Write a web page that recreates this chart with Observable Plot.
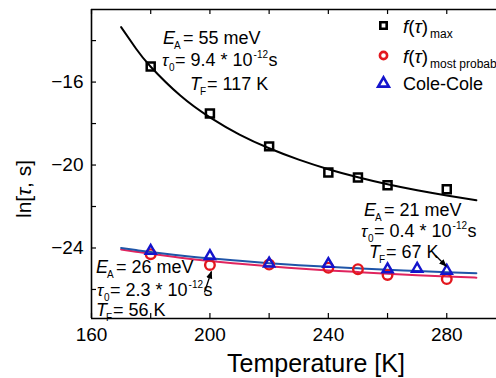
<!DOCTYPE html>
<html><head><meta charset="utf-8">
<script src="https://cdn.jsdelivr.net/npm/d3@7"></script>
<script src="https://cdn.jsdelivr.net/npm/@observablehq/plot@0.6"></script>
<style>
html,body{margin:0;padding:0;background:#fff}
#chart svg{display:block;font-family:Arial,"Liberation Sans",sans-serif}
</style></head><body><div id="chart"></div>
<script>
// ---- data ----
const tempsMax = [180, 200, 220, 240, 250, 260, 280];
const tauMax = [-15.25, -17.51, -19.10, -20.36, -20.60, -20.98, -21.17];
const tempsMP = [180, 200, 220, 240, 250, 260, 280];
const tauMostProbable = [-24.30, -24.82, -24.80, -24.95, -25.02, -25.30, -25.50];
const tempsCC = [180, 200, 220, 240, 260, 270, 280];
const tauColeCole = [-24.14, -24.39, -24.75, -24.77, -25.03, -25.00, -25.10];
const fitT = [170, 175, 180, 190, 200, 210, 220, 230, 240, 250, 260, 270, 280, 290];
const fitMax = [-13.35, -14.38, -15.26, -16.65, -17.70, -18.53, -19.19, -19.74, -20.20, -20.59, -20.93, -21.22, -21.47, -21.70];
const fitMP = [-24.07, -24.18, -24.28, -24.47, -24.63, -24.76, -24.88, -24.99, -25.08, -25.16, -25.24, -25.31, -25.37, -25.43];
const fitCC = [-24.00, -24.10, -24.19, -24.36, -24.50, -24.62, -24.73, -24.83, -24.91, -24.98, -25.05, -25.11, -25.17, -25.22];
const xTickLabels = [160, 200, 240, 280];
const xTickMarks = [160, 180, 200, 220, 240, 260, 280];
const yTickLabels = [-24, -20, -16];
const yTickMarks = [-26, -24, -22, -20, -18, -16, -14];
const legendLabels = ["max", "most probable", "Cole-Cole"];

const rowsMax = tempsMax.map((t, i) => ({t, v: tauMax[i]}));
const rowsMP = tempsMP.map((t, i) => ({t, v: tauMostProbable[i]}));
const rowsCC = tempsCC.map((t, i) => ({t, v: tauColeCole[i]}));
const rowsFit = fitT.map((t, i) => ({t, max: fitMax[i], mp: fitMP[i], cc: fitCC[i]}));

const W = 496, H = 378, mL = 91, mR = 0, mT = 9, mB = 60;
const frameW = W - mL - mR, frameH = H - mT - mB;
const RED = "#e3171e", BLUE = "#1414cc", REDLINE = "#e0245e", BLUELINE = "#1f55a8";

const plot = Plot.plot({
  width: W, height: H,
  marginLeft: mL, marginRight: mR, marginTop: mT, marginBottom: mB,
  x: {domain: [160, 296.8]},
  y: {domain: [-27.4, -12.5]},
  style: {background: "#fff", color: "#000", fontFamily: "Arial, 'Liberation Sans', sans-serif"},
  marks: [
    Plot.tickX(xTickMarks, {x: d => d, insetTop: frameH - 5, stroke: "#000", strokeWidth: 1.2}),
    Plot.tickX(xTickMarks, {x: d => d, insetBottom: frameH - 5, stroke: "#000", strokeWidth: 1.2}),
    Plot.tickY(yTickMarks, {y: d => d, insetRight: frameW - 5, stroke: "#000", strokeWidth: 1.2}),
    Plot.axisX(xTickLabels, {anchor: "bottom", tickSize: 0, tickPadding: 9, fontSize: 19, label: null}),
    Plot.axisY(yTickLabels, {anchor: "left", tickSize: 0, tickPadding: 8, fontSize: 19, label: null}),
    Plot.ruleX([160], {stroke: "#000", strokeWidth: 1.6}),
    Plot.ruleY([-27.4], {stroke: "#000", strokeWidth: 1.6}),
    Plot.ruleY([-12.5], {stroke: "#000", strokeWidth: 1.4}),
    Plot.line(rowsFit, {x: "t", y: "max", stroke: "#000", strokeWidth: 2, curve: "natural"}),
    Plot.line(rowsFit, {x: "t", y: "mp", stroke: REDLINE, strokeWidth: 2, curve: "natural"}),
    Plot.line(rowsFit, {x: "t", y: "cc", stroke: BLUELINE, strokeWidth: 2, curve: "natural"}),
    Plot.dot(rowsMax, {x: "t", y: "v", symbol: "square", r: 4.5, stroke: "#000", strokeWidth: 2.5, fill: "none"}),
    Plot.dot(rowsMP, {x: "t", y: "v", symbol: "circle", r: 4.8, stroke: RED, strokeWidth: 2.4, fill: "none"}),
    Plot.dot(rowsCC, {x: "t", y: "v", symbol: "triangle", r: 3.8, stroke: BLUE, strokeWidth: 2.4, fill: "none"}),
    Plot.dot([legendLabels[0]], {frameAnchor: "top-left", dx: 383 - mL, dy: 25 - mT, symbol: "square", r: 3.6, stroke: "#000", strokeWidth: 2.6, fill: "none"}),
    Plot.dot([legendLabels[1]], {frameAnchor: "top-left", dx: 383 - mL, dy: 55 - mT, symbol: "circle", r: 3.6, stroke: RED, strokeWidth: 2.6, fill: "none"}),
    Plot.dot([legendLabels[2]], {frameAnchor: "top-left", dx: 383 - mL, dy: 83 - mT, symbol: "triangle", r: 4.0, stroke: BLUE, strokeWidth: 2.6, fill: "none"})
  ]
});

const svg = d3.select(plot);
const FF = "Arial, 'Liberation Sans', sans-serif";
function seg(x, y, text, size, italic) {
  svg.append("text").attr("x", x).attr("y", y).attr("font-size", size)
    .attr("font-family", FF).attr("fill", "#000").attr("text-anchor", "start")
    .attr("font-style", italic ? "italic" : "normal").text(text);
}
svg.append("text").attr("x", 316).attr("y", 372).attr("text-anchor", "middle")
  .attr("font-size", 25).attr("font-family", FF).attr("fill", "#000").text("Temperature [K]");
svg.append("text").attr("transform", "translate(31,189) rotate(-90)").attr("text-anchor", "middle")
  .attr("font-size", 21).attr("font-family", FF).attr("fill", "#000")
  .html('ln[<tspan font-style="italic">τ</tspan>, s]');

function fTau(x, y) {
  svg.append("text").attr("x", x).attr("y", y).attr("font-size", 19).attr("font-family", FF)
    .attr("fill", "#000").attr("text-anchor", "start")
    .html('<tspan font-style="italic">f</tspan>(<tspan font-style="italic">τ</tspan>)');
}
fTau(403, 33); seg(430, 38, legendLabels[0], 12, false);
fTau(403, 63); seg(430, 68, legendLabels[1], 12, false);
seg(403, 90, legendLabels[2], 18, false);

function block(o, ea, tau0, tf) {
  seg(o.e[0], o.e[1], "E", 18, true); seg(o.e[0] + 11, o.e[1] + 5, "A", 10, false);
  seg(o.e[0] + 20, o.e[1], "= " + ea + " meV", 18, false);
  seg(o.t[0], o.t[1], "τ", 17, true); seg(o.t[0] + 7, o.t[1] + 5, "0", 10, false);
  const w = 18 * (0.584 + 0.278 + 0.556 * 2 + 0.278 + 0.278 + 0.389 + 0.278 + 1.112);
  seg(o.t[0] + 13, o.t[1], "= " + tau0 + " * 10", 18, false);
  seg(o.t[0] + 13 + w + 1, o.t[1] - 8, "-12", 10, false);
  seg(o.t[0] + 13 + w + 16, o.t[1], "s", 18, false);
  seg(o.f[0], o.f[1], "T", 18, true); seg(o.f[0] + 10, o.f[1] + 5, "F", 10, false);
  seg(o.f[0] + 17, o.f[1], "= " + tf + " K", 18, false);
}
block({e: [163, 44], t: [162, 66], f: [190, 90]}, "55", "9.4", "117");
block({e: [364, 216], t: [361, 237], f: [369, 258]}, "21", "0.4", "67");
block({e: [96, 273], t: [97, 296], f: [96, 316]}, "26", "2.3", "56");

const sx = plot.scale("x"), sy = plot.scale("y");
const defs = svg.append("defs");
defs.append("marker").attr("id", "ah").attr("viewBox", "0 0 10 10").attr("refX", 9).attr("refY", 5)
  .attr("markerWidth", 6).attr("markerHeight", 6).attr("orient", "auto")
  .append("path").attr("d", "M0,1L10,5L0,9z").attr("fill", "#000");
function arrow(t, v, tx, ty, hx, hy) {
  const px = sx.apply(t), py = sy.apply(v);
  svg.append("line").attr("x1", px + tx).attr("y1", py + ty).attr("x2", px + hx).attr("y2", py + hy)
    .attr("stroke", "#000").attr("stroke-width", 1.3).attr("marker-end", "url(#ah)");
}
arrow(tempsMP[1], tauMostProbable[1], -5, 28, 2, 7);
arrow(tempsCC[6], tauColeCole[6], -11, -15, 0, -4);

document.getElementById("chart").appendChild(plot);
</script>
</body></html>
